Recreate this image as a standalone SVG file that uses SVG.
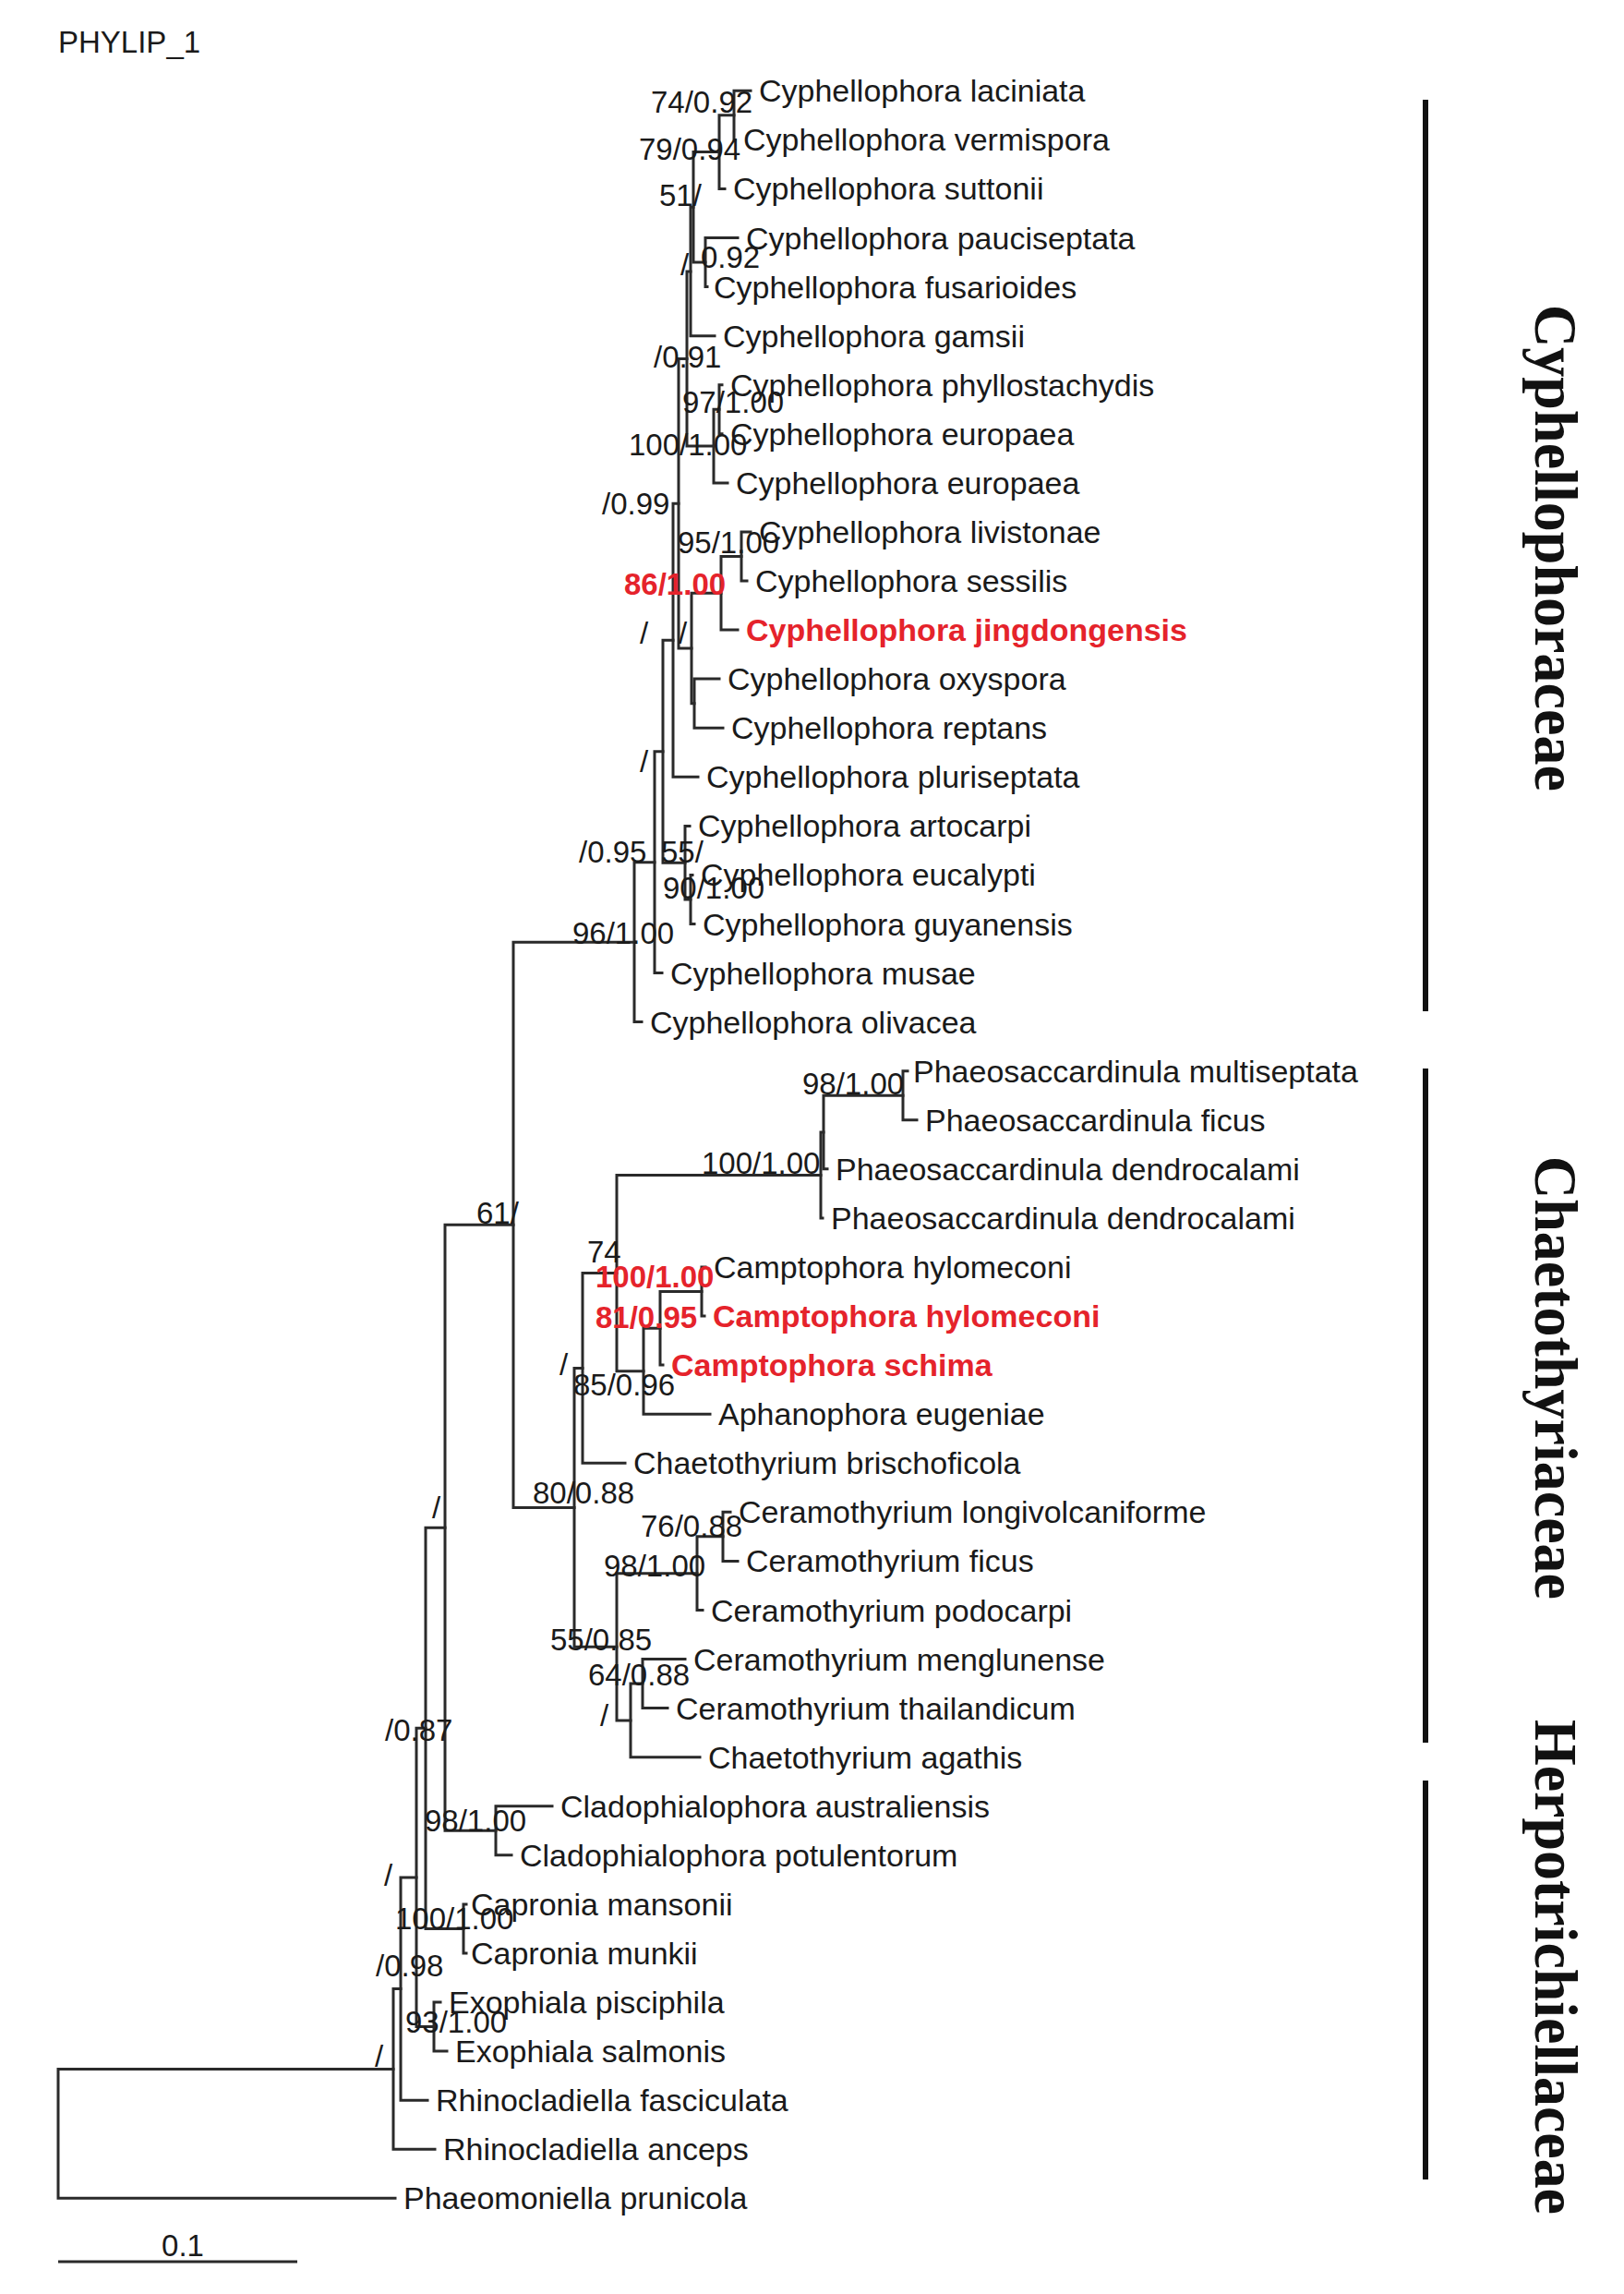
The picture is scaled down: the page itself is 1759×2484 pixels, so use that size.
<svg xmlns="http://www.w3.org/2000/svg" width="1759" height="2484" viewBox="0 0 1759 2484">
<style>
text{font-family:"Liberation Sans",Arial,sans-serif;fill:#1a1a1a}
.t{font-size:34px}
.s{font-size:33px}
.red{fill:#e5232b;font-weight:bold}
.clade{font-family:"Liberation Serif","Times New Roman",serif;font-weight:bold;font-size:66px;fill:#111}
.br{stroke:#2a2a2a;stroke-width:3;fill:none;stroke-linecap:square}
.bar{stroke:#111;stroke-width:6;fill:none}
</style>
<rect width="1759" height="2484" fill="#fff"/>
<text x="63" y="57" class="s">PHYLIP_1</text>
<g id="connectors">
<path class="br" d="M795 98.3V151.4M795 98.3H813M795 151.4H796"/>
<path class="br" d="M779 124.85V204.4M779 124.85H795M779 204.4H785"/>
<path class="br" d="M764 257.5V310.6M764 257.5H799M764 310.6H766"/>
<path class="br" d="M751 164.6V284.05M751 164.6H779M751 284.05H764"/>
<path class="br" d="M748 224.3V363.7M748 224.3H751M748 363.7H774"/>
<path class="br" d="M779 416.7V469.8M779 416.7H782M779 469.8H782"/>
<path class="br" d="M773 443.25V522.9M773 443.25H779M773 522.9H788"/>
<path class="br" d="M744 294V483.1M744 294H748M744 483.1H773"/>
<path class="br" d="M803 575.9V629M803 575.9H813M803 629H809"/>
<path class="br" d="M781 602.45V682.1M781 602.45H803M781 682.1H799"/>
<path class="br" d="M752 735.1V788.2M752 735.1H779M752 788.2H783"/>
<path class="br" d="M749 642.3V761.65M749 642.3H781M749 761.65H752"/>
<path class="br" d="M735 388.5V702M735 388.5H744M735 702H749"/>
<path class="br" d="M729 545.25V841.3M729 545.25H735M729 841.3H756"/>
<path class="br" d="M748 947.4V1000.5M748 947.4H750M748 1000.5H752"/>
<path class="br" d="M742 894.4V973.95M742 894.4H747M742 973.95H748"/>
<path class="br" d="M718 693.3V934.2M718 693.3H729M718 934.2H742"/>
<path class="br" d="M709 813.75V1053.6M709 813.75H718M709 1053.6H717"/>
<path class="br" d="M687 933.7V1106.6M687 933.7H709M687 1106.6H695"/>
<path class="br" d="M978 1159.7V1212.8M978 1159.7H983M978 1212.8H993"/>
<path class="br" d="M892 1186.25V1265.8M892 1186.25H978M892 1265.8H896"/>
<path class="br" d="M889 1226V1318.9M889 1226H892M889 1318.9H891"/>
<path class="br" d="M760 1372V1425M760 1372H764M760 1425H763"/>
<path class="br" d="M715 1398.5V1478.1M715 1398.5H760M715 1478.1H718"/>
<path class="br" d="M697 1438.3V1531.2M697 1438.3H715M697 1531.2H769"/>
<path class="br" d="M668 1272.45V1484.75M668 1272.45H889M668 1484.75H697"/>
<path class="br" d="M631 1378.6V1584.3M631 1378.6H668M631 1584.3H677"/>
<path class="br" d="M783 1637.3V1690.4M783 1637.3H791M783 1690.4H799"/>
<path class="br" d="M755 1663.85V1743.5M755 1663.85H783M755 1743.5H761"/>
<path class="br" d="M696 1796.5V1849.6M696 1796.5H742M696 1849.6H723"/>
<path class="br" d="M683 1823.05V1902.7M683 1823.05H696M683 1902.7H758"/>
<path class="br" d="M668 1703.7V1862.9M668 1703.7H755M668 1862.9H683"/>
<path class="br" d="M622 1481.45V1783.3M622 1481.45H631M622 1783.3H668"/>
<path class="br" d="M556 1020.15V1632.4M556 1020.15H687M556 1632.4H622"/>
<path class="br" d="M537 1955.7V2008.8M537 1955.7H598M537 2008.8H554"/>
<path class="br" d="M482 1326.3V1982.25M482 1326.3H556M482 1982.25H537"/>
<path class="br" d="M502 2061.9V2114.9M502 2061.9H505M502 2114.9H505"/>
<path class="br" d="M461 1654.3V2088.4M461 1654.3H482M461 2088.4H502"/>
<path class="br" d="M470 2168V2221.1M470 2168H477M470 2221.1H484"/>
<path class="br" d="M451 1871.35V2194.55M451 1871.35H461M451 2194.55H470"/>
<path class="br" d="M434 2032.95V2274.2M434 2032.95H451M434 2274.2H463"/>
<path class="br" d="M426 2153.6V2327.2M426 2153.6H434M426 2327.2H471"/>
<path class="br" d="M63 2240.4V2380.3M63 2240.4H426M63 2380.3H428"/>
</g>
<g id="taxa" class="t">
<g id="taxon-0"><text x="822" y="110.3">Cyphellophora laciniata</text></g>
<g id="taxon-1"><text x="805" y="163.4">Cyphellophora vermispora</text></g>
<g id="taxon-2"><text x="794" y="216.4">Cyphellophora suttonii</text></g>
<g id="taxon-3"><text x="808" y="269.5">Cyphellophora pauciseptata</text></g>
<g id="taxon-4"><text x="773" y="322.6">Cyphellophora fusarioides</text></g>
<g id="taxon-5"><text x="783" y="375.7">Cyphellophora gamsii</text></g>
<g id="taxon-6"><text x="791" y="428.7">Cyphellophora phyllostachydis</text></g>
<g id="taxon-7"><text x="791" y="481.8">Cyphellophora europaea</text></g>
<g id="taxon-8"><text x="797" y="534.9">Cyphellophora europaea</text></g>
<g id="taxon-9"><text x="822" y="587.9">Cyphellophora livistonae</text></g>
<g id="taxon-10"><text x="818" y="641">Cyphellophora sessilis</text></g>
<g id="taxon-11"><text x="808" y="694.1" class="red">Cyphellophora jingdongensis</text></g>
<g id="taxon-12"><text x="788" y="747.1">Cyphellophora oxyspora</text></g>
<g id="taxon-13"><text x="792" y="800.2">Cyphellophora reptans</text></g>
<g id="taxon-14"><text x="765" y="853.3">Cyphellophora pluriseptata</text></g>
<g id="taxon-15"><text x="756" y="906.4">Cyphellophora artocarpi</text></g>
<g id="taxon-16"><text x="759" y="959.4">Cyphellophora eucalypti</text></g>
<g id="taxon-17"><text x="761" y="1012.5">Cyphellophora guyanensis</text></g>
<g id="taxon-18"><text x="726" y="1065.6">Cyphellophora musae</text></g>
<g id="taxon-19"><text x="704" y="1118.6">Cyphellophora olivacea</text></g>
<g id="taxon-20"><text x="989" y="1171.7">Phaeosaccardinula multiseptata</text></g>
<g id="taxon-21"><text x="1002" y="1224.8">Phaeosaccardinula ficus</text></g>
<g id="taxon-22"><text x="905" y="1277.8">Phaeosaccardinula dendrocalami</text></g>
<g id="taxon-23"><text x="900" y="1330.9">Phaeosaccardinula dendrocalami</text></g>
<g id="taxon-24"><text x="773" y="1384">Camptophora hylomeconi</text></g>
<g id="taxon-25"><text x="772" y="1437" class="red">Camptophora hylomeconi</text></g>
<g id="taxon-26"><text x="727" y="1490.1" class="red">Camptophora schima</text></g>
<g id="taxon-27"><text x="778" y="1543.2">Aphanophora eugeniae</text></g>
<g id="taxon-28"><text x="686" y="1596.3">Chaetothyrium brischoficola</text></g>
<g id="taxon-29"><text x="800" y="1649.3">Ceramothyrium longivolcaniforme</text></g>
<g id="taxon-30"><text x="808" y="1702.4">Ceramothyrium ficus</text></g>
<g id="taxon-31"><text x="770" y="1755.5">Ceramothyrium podocarpi</text></g>
<g id="taxon-32"><text x="751" y="1808.5">Ceramothyrium menglunense</text></g>
<g id="taxon-33"><text x="732" y="1861.6">Ceramothyrium thailandicum</text></g>
<g id="taxon-34"><text x="767" y="1914.7">Chaetothyrium agathis</text></g>
<g id="taxon-35"><text x="607" y="1967.7">Cladophialophora australiensis</text></g>
<g id="taxon-36"><text x="563" y="2020.8">Cladophialophora potulentorum</text></g>
<g id="taxon-37"><text x="510" y="2073.9">Capronia mansonii</text></g>
<g id="taxon-38"><text x="510" y="2126.9">Capronia munkii</text></g>
<g id="taxon-39"><text x="486" y="2180">Exophiala pisciphila</text></g>
<g id="taxon-40"><text x="493" y="2233.1">Exophiala salmonis</text></g>
<g id="taxon-41"><text x="472" y="2286.2">Rhinocladiella fasciculata</text></g>
<g id="taxon-42"><text x="480" y="2339.2">Rhinocladiella anceps</text></g>
<g id="taxon-43"><text x="437" y="2392.3">Phaeomoniella prunicola</text></g>
</g>
<g id="support" class="s">
<text x="705" y="122">74/0.92</text>
<text x="692" y="173">79/0.94</text>
<text x="714" y="223">51/</text>
<text x="737" y="298">/</text>
<text x="759" y="290">0.92</text>
<text x="708" y="398">/0.91</text>
<text x="739" y="447">97/1.00</text>
<text x="681" y="493">100/1.00</text>
<text x="652" y="557">/0.99</text>
<text x="734" y="599">95/1.00</text>
<text x="676" y="644" class="red">86/1.00</text>
<text x="693" y="697">/</text>
<text x="735" y="697">/</text>
<text x="693" y="836">/</text>
<text x="627" y="934">/0.95</text>
<text x="716" y="934">55/</text>
<text x="718" y="973">90/1.00</text>
<text x="620" y="1022">96/1.00</text>
<text x="516" y="1325">61/</text>
<text x="869" y="1185">98/1.00</text>
<text x="760" y="1271">100/1.00</text>
<text x="636" y="1367">74</text>
<text x="645" y="1394" class="red">100/1.00</text>
<text x="645" y="1438" class="red">81/0.95</text>
<text x="606" y="1489">/</text>
<text x="621" y="1511">85/0.96</text>
<text x="577" y="1628">80/0.88</text>
<text x="468" y="1644">/</text>
<text x="694" y="1664">76/0.88</text>
<text x="654" y="1707">98/1.00</text>
<text x="596" y="1787">55/0.85</text>
<text x="637" y="1825">64/0.88</text>
<text x="650" y="1869">/</text>
<text x="417" y="1885">/0.87</text>
<text x="460" y="1983">98/1.00</text>
<text x="416" y="2042">/</text>
<text x="428" y="2089">100/1.00</text>
<text x="407" y="2140">/0.98</text>
<text x="439" y="2201">93/1.00</text>
<text x="406" y="2238">/</text>
</g>
<g id="clade-cyphellophoraceae">
<line class="bar" x1="1544" y1="108" x2="1544" y2="1095"/>
<text class="clade" transform="translate(1663,330) rotate(90)" textLength="527" lengthAdjust="spacingAndGlyphs">Cyphellophoraceae</text>
</g>
<g id="clade-chaetothyriaceae">
<line class="bar" x1="1544" y1="1157" x2="1544" y2="1887"/>
<text class="clade" transform="translate(1663,1252) rotate(90)" textLength="480" lengthAdjust="spacingAndGlyphs">Chaetothyriaceae</text>
</g>
<g id="clade-herpotrichiellaceae">
<line class="bar" x1="1544" y1="1928" x2="1544" y2="2360"/>
<text class="clade" transform="translate(1663,1862) rotate(90)" textLength="536" lengthAdjust="spacingAndGlyphs">Herpotrichiellaceae</text>
</g>
<g id="scale-bar">
<line x1="63" y1="2449" x2="322" y2="2449" stroke="#2a2a2a" stroke-width="3"/>
<text x="198" y="2443" class="s" text-anchor="middle">0.1</text>
</g>
</svg>
